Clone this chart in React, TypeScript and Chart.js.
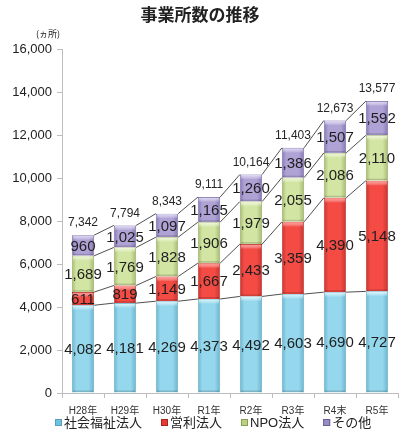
import { useEffect, useRef } from "react";
import { Chart, registerables } from "chart.js";

Chart.register(...registerables);

const categories = ["H28年", "H29年", "H30年", "R1年", "R2年", "R3年", "R4末", "R5年"];
const welfare = [4082, 4181, 4269, 4373, 4492, 4603, 4690, 4727];
const forProfit = [611, 819, 1149, 1667, 2433, 3359, 4390, 5148];
const npo = [1689, 1769, 1828, 1906, 1979, 2055, 2086, 2110];
const others = [960, 1025, 1097, 1165, 1260, 1386, 1507, 1592];
const totals = [7342, 7794, 8343, 9111, 10164, 11403, 12673, 13577];
const seriesNames = ["社会福祉法人", "営利法人", "NPO法人", "その他"];

const FONT = "'Liberation Sans', 'Noto Sans CJK JP', Arial, sans-serif";

const palette = [
  { edge: "#6bb5cf", center: "#95d7ec", cap: "#d6f7ff", border: "#5a9fb8", legend: "#6cc3df" },
  { edge: "#c8342f", center: "#f44b45", cap: "#ff8d87", border: "#a82420", legend: "#e63a33" },
  { edge: "#a6bb72", center: "#d2e5a3", cap: "#eef8d6", border: "#8a9d58", legend: "#b9d27e" },
  { edge: "#8779b6", center: "#afa3d6", cap: "#dcd4f4", border: "#6a5d96", legend: "#9a8dc6" },
];

const fmt = (v: number) => v.toLocaleString("en-US");

function makeFill(i: number) {
  return (c: any) => {
    const chart = c.chart;
    const area = chart.chartArea;
    const p = palette[i];
    if (!area || c.dataIndex === undefined) return p.legend;
    const xs = chart.scales.x;
    const cx = xs.getPixelForValue(c.dataIndex);
    const w = (area.width / categories.length) * 0.53;
    const g = chart.ctx.createLinearGradient(cx - w / 2, 0, cx + w / 2, 0);
    g.addColorStop(0, p.edge);
    g.addColorStop(0.2, p.center);
    g.addColorStop(0.75, p.center);
    g.addColorStop(1, p.edge);
    return g;
  };
}

const overlay = {
  id: "overlay",
  afterDatasetsDraw(chart: any) {
    const ctx = chart.ctx as CanvasRenderingContext2D;
    const series = [welfare, forProfit, npo, others];
    const metas = series.map((_, i) => chart.getDatasetMeta(i));
    ctx.save();
    metas.forEach((meta: any, d: number) => {
      meta.data.forEach((el: any) => {
        const l = el.x - el.width / 2;
        const g = ctx.createLinearGradient(0, el.y, 0, el.y + 5);
        g.addColorStop(0, palette[d].cap);
        g.addColorStop(1, "rgba(255,255,255,0)");
        ctx.fillStyle = g;
        ctx.fillRect(l + 1, el.y + 0.5, el.width - 2, 5);
        ctx.fillStyle = "rgba(0,0,0,0.16)";
        ctx.fillRect(l + 1, el.base - 2, el.width - 2, 1.5);
      });
    });
    ctx.strokeStyle = "#3c3c3c";
    ctx.lineWidth = 0.9;
    metas.forEach((meta: any) => {
      for (let i = 0; i < meta.data.length - 1; i++) {
        const a = meta.data[i];
        const b = meta.data[i + 1];
        ctx.beginPath();
        ctx.moveTo(a.x + a.width / 2, a.y);
        ctx.lineTo(b.x - b.width / 2, b.y);
        ctx.stroke();
      }
    });
    ctx.font = `15px ${FONT}`;
    ctx.fillStyle = "#1e1e1e";
    ctx.textAlign = "center";
    ctx.textBaseline = "middle";
    metas.forEach((meta: any, d: number) => {
      meta.data.forEach((el: any, i: number) => {
        ctx.fillText(fmt(series[d][i]), el.x, (el.y + el.base) / 2 + 1);
      });
    });
    ctx.font = `12px ${FONT}`;
    ctx.fillStyle = "#262626";
    ctx.textBaseline = "bottom";
    metas[3].data.forEach((el: any, i: number) => {
      ctx.fillText(fmt(totals[i]), el.x, el.y - 6);
    });
    ctx.restore();
  },
  afterDraw(chart: any) {
    const ctx = chart.ctx as CanvasRenderingContext2D;
    ctx.save();
    ctx.fillStyle = "#222";
    ctx.textAlign = "center";
    ctx.textBaseline = "middle";
    ctx.font = `bold 17px 'Noto Sans CJK JP', sans-serif`;
    ctx.fillText("事業所数の推移", 200, 15);
    ctx.font = `9px 'Noto Sans CJK JP', sans-serif`;
    ctx.fillText("(ヵ所)", 48, 34);
    ctx.font = `13px ${FONT}`;
    ctx.textAlign = "left";
    let x = 55;
    const y = 423;
    seriesNames.forEach((n, i) => {
      ctx.fillStyle = palette[i].legend;
      ctx.fillRect(x, y - 4, 7, 7);
      ctx.strokeStyle = palette[i].border;
      ctx.lineWidth = 1;
      ctx.strokeRect(x + 0.5, y - 3.5, 6, 6);
      ctx.fillStyle = "#222";
      ctx.fillText(n, x + 9, y);
      x += 9 + ctx.measureText(n).width + 19;
    });
    ctx.restore();
  },
};

export default function App() {
  const ref = useRef<HTMLCanvasElement | null>(null);
  useEffect(() => {
    if (!ref.current) return;
    const series = [welfare, forProfit, npo, others];
    const chart = new Chart(ref.current, {
      type: "bar",
      data: {
        labels: categories,
        datasets: series.map((vals, i) => ({
          label: seriesNames[i],
          data: vals,
          backgroundColor: makeFill(i) as any,
          borderColor: palette[i].border,
          borderWidth: 0.8,
          categoryPercentage: 1,
          barPercentage: 0.53,
        })),
      },
      options: {
        animation: false,
        responsive: true,
        maintainAspectRatio: false,
        layout: { padding: { top: 49, left: 11, right: 5, bottom: 24 } },
        scales: {
          x: {
            stacked: true,
            grid: { drawOnChartArea: false, drawTicks: true, tickLength: 5, color: "#bdbdbd" },
            border: { display: true, color: "#bdbdbd" },
            ticks: { font: { size: 10, family: FONT }, color: "#333", padding: 7, maxRotation: 0 },
            afterFit: (s: any) => {
              s.height = 24;
            },
          },
          y: {
            stacked: true,
            min: 0,
            max: 16000,
            ticks: {
              stepSize: 2000,
              font: { size: 13, family: FONT },
              color: "#222",
              padding: 5,
              callback: (v: any) => fmt(Number(v)),
            },
            grid: { drawOnChartArea: false, drawTicks: true, tickLength: 5, color: "#bdbdbd" },
            border: { display: true, color: "#bdbdbd" },
            afterFit: (s: any) => {
              s.width = 51;
            },
          },
        },
        plugins: {
          title: { display: false },
          tooltip: { enabled: false },
          legend: { display: false },
        },
      },
      plugins: [overlay],
    });
    return () => chart.destroy();
  }, []);
  return (
    <div style={{ position: "absolute", left: 0, top: 0, width: 403, height: 441, background: "#fff" }}>
      <canvas ref={ref} />
    </div>
  );
}
